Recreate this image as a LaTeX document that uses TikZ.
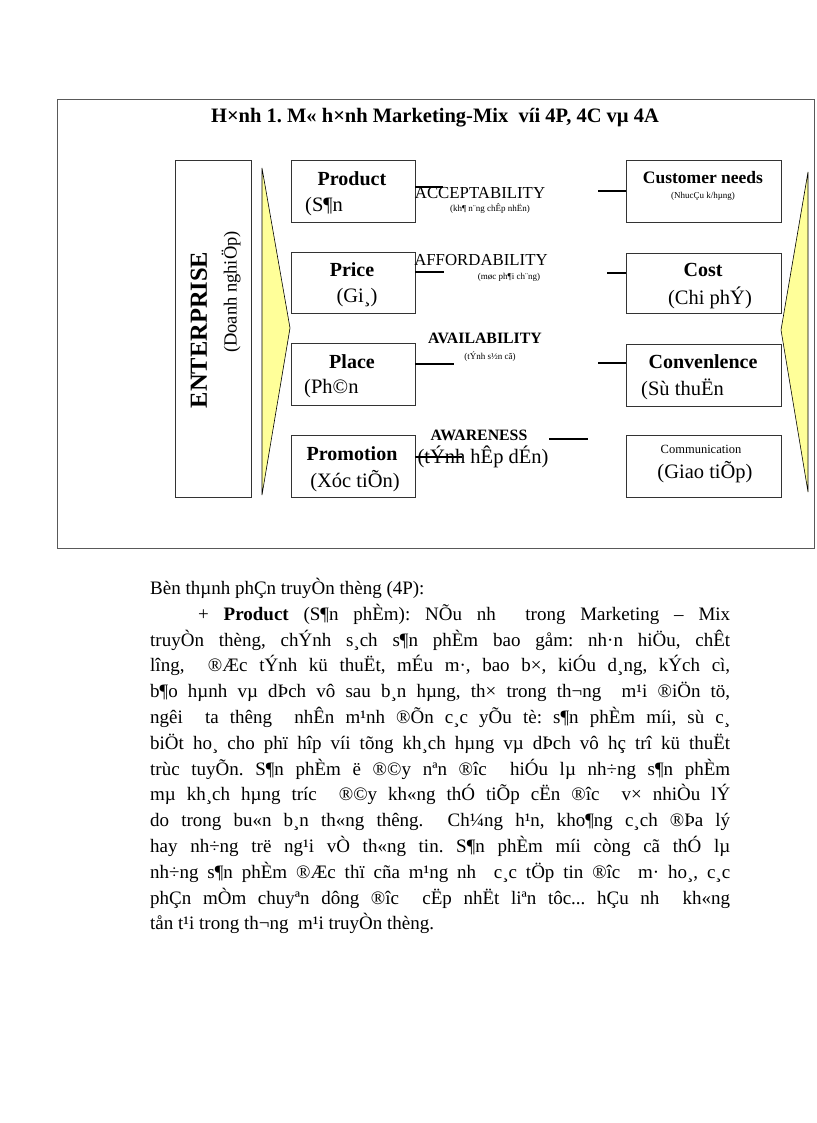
\documentclass[tikz,border=0pt]{standalone}
\usepackage{fontspec}
\setmainfont{Liberation Serif}
\frenchspacing
\definecolor{paleyellow}{RGB}{255,255,153}
\tikzset{
	box/.style={draw=black!80, line width=0.8pt, inner sep=0pt},
	link/.style={line width=2.8pt},
	head/.style={inner sep=0pt, font=\fontsize{20}{24}\selectfont\bfseries},
	sub/.style={inner sep=0pt, font=\fontsize{20.5}{24}\selectfont},
	midtxt/.style={inner sep=0pt, font=\fontsize{16.8}{20}\selectfont},
	minitxt/.style={inner sep=0pt, font=\fontsize{9}{10}\selectfont},
}
\begin{document}
\begin{tikzpicture}[x=1pt,y=-1pt]
	\useasboundingbox (0,0) rectangle (816,1123);
	%frame and title
	\draw[black!65, line width=0.8pt] (57,99) rectangle (814,548);
	\node[inner sep=0pt, font=\fontsize{20.5}{24}\selectfont\bfseries] (title) at (435,118) {H×nh 1. M« h×nh Marketing-Mix~ víi 4P, 4C vµ 4A};
	
	%enterprise
	\node[box, minimum width=76, minimum height=337] (ent) at (213,329) {};
	\node[inner sep=0pt, rotate=90, font=\fontsize{24.5}{28}\selectfont\bfseries] (entname) at (199,330) {ENTERPRISE};
	\node[inner sep=0pt, rotate=90, font=\fontsize{18.5}{22}\selectfont] (entsub) at (231,292) {(Doanh nghiÖp)};
	
	%yellow arrows
	\draw[fill=paleyellow, line width=0.6pt] (262,168) -- (290,328) -- (262,495) -- cycle;
	\draw[fill=paleyellow, line width=0.6pt] (808,172) -- (781,330) -- (808,492) -- cycle;
	
	%4P boxes
	\node[box, minimum width=124, minimum height=62] (prod) at (353,191) {};
	\node[box, minimum width=124, minimum height=61] (price) at (353,282.5) {};
	\node[box, minimum width=124, minimum height=62] (place) at (353,374) {};
	\node[box, minimum width=124, minimum height=62] (promo) at (353,466) {};
	\node[head] (prodhead) at (352,179) {Product};
	\node[sub, anchor=west] (prodsub) at (305,207) {(S¶n};
	\node[head] (pricehead) at (352,270) {Price};
	\node[sub] (pricesub) at (357,298) {(Gi¸)};
	\node[head] (placehead) at (352,362) {Place};
	\node[sub, anchor=west] (placesub) at (304,389) {(Ph©n};
	\node[head] (promohead) at (352,454) {Promotion};
	\node[sub] (promosub) at (355,481) {(Xóc tiÕn)};
	
	%4C boxes
	\node[box, minimum width=155, minimum height=62] (need) at (703.5,191) {};
	\node[box, minimum width=155, minimum height=60] (cost) at (703.5,283) {};
	\node[box, minimum width=155, minimum height=62] (conv) at (703.5,375) {};
	\node[box, minimum width=155, minimum height=62] (comm) at (703.5,466) {};
	\node[inner sep=0pt, font=\fontsize{17.5}{20}\selectfont\bfseries] (needhead) at (703,178) {Customer needs};
	\node[minitxt] (needsub) at (703,196) {(NhucÇu k/hµng)};
	\node[head] (costhead) at (703,270) {Cost};
	\node[sub] (costsub) at (710,298) {(Chi phÝ)};
	\node[head] (convhead) at (703,362) {Convenlence};
	\node[sub, anchor=west] (convsub) at (641,389) {(Sù thuËn};
	\node[inner sep=0pt, font=\fontsize{12.5}{14}\selectfont] (commhead) at (701,449) {Communication};
	\node[sub] (commsub) at (705,472) {(Giao tiÕp)};
	
	%4A labels
	\node[midtxt] (acc) at (480,193) {ACCEPTABILITY};
	\node[minitxt] (accsub) at (490,209) {(kh¶ n¨ng chÊp nhËn)};
	\node[midtxt] (aff) at (481,260) {AFFORDABILITY};
	\node[minitxt] (affsub) at (509,277) {(møc ph¶i ch¨ng)};
	\node[midtxt, font=\fontsize{15.8}{19}\selectfont\bfseries] (ava) at (485,338) {AVAILABILITY};
	\node[minitxt] (avasub) at (490,357) {(tÝnh s½n cã)};
	\node[midtxt, font=\fontsize{15.8}{19}\selectfont\bfseries] (awa) at (479,435) {AWARENESS};
	\node[sub] (awasub) at (483,457) {(tÝnh hÊp dÉn)};
	
	%links
	\coordinate (accL) at (443,187);
	\coordinate (accR) at (598,191);
	\coordinate (affL) at (444,272);
	\coordinate (affR) at (607,273);
	\coordinate (avaL) at (454,364);
	\coordinate (avaR) at (598,363);
	\coordinate (awaL) at (462,457);
	\coordinate (awa1) at (549,439);
	\coordinate (awa2) at (588,439);
	\draw[link] (prod.east |- accL) -- (accL);
	\draw[link] (accR) -- (need.west);
	\draw[link] (price.east |- affL) -- (affL);
	\draw[link] (affR) -- (cost.west |- affR);
	\draw[link] (place.east |- avaL) -- (avaL);
	\draw[link] (avaR) -- (conv.west |- avaR);
	\draw[link] (promo.east |- awaL) -- (awaL);
	\draw[link] (awa1) -- (awa2);
	
	%text below
	\node[inner sep=0pt, anchor=north west, text width=580pt, align=justify, font=\fontsize{19}{25.8}\selectfont] (body) at (150,578) {%
Bèn thµnh phÇn truyÒn thèng (4P):\\
\hspace*{48pt}+ \textbf{Product} (S¶n phÈm): NÕu nh~ trong Marketing – Mix\linebreak
truyÒn thèng, chÝnh s¸ch s¶n phÈm bao gåm: nh·n hiÖu, chÊt\linebreak
lîng,~ ®Æc tÝnh kü thuËt, mÉu m·, bao b×, kiÓu d¸ng, kÝch cì,\linebreak
b¶o hµnh vµ dÞch vô sau b¸n hµng, th× trong th¬ng~ m¹i ®iÖn tö,\linebreak
ngêi~ ta thêng~ nhÊn m¹nh ®Õn c¸c yÕu tè: s¶n phÈm míi, sù c¸\linebreak
biÖt ho¸ cho phï hîp víi tõng kh¸ch hµng vµ dÞch vô hç trî kü thuËt\linebreak
trùc tuyÕn. S¶n phÈm ë ®©y nªn ®îc~ hiÓu lµ nh÷ng s¶n phÈm\linebreak
mµ kh¸ch hµng tríc~ ®©y kh«ng thÓ tiÕp cËn ®îc~ v× nhiÒu lÝ\linebreak
do trong bu«n b¸n th«ng thêng.~ Ch¼ng h¹n, kho¶ng c¸ch ®Þa lý\linebreak
hay nh÷ng trë ng¹i vÒ th«ng tin. S¶n phÈm míi còng cã thÓ lµ\linebreak
nh÷ng s¶n phÈm ®Æc thï cña m¹ng nh~ c¸c tÖp tin ®îc~ m· ho¸, c¸c\linebreak
phÇn mÒm chuyªn dông ®îc~ cËp nhËt liªn tôc... hÇu nh~ kh«ng\linebreak
tån t¹i trong th¬ng~ m¹i truyÒn thèng.};
\end{tikzpicture}
\end{document}
